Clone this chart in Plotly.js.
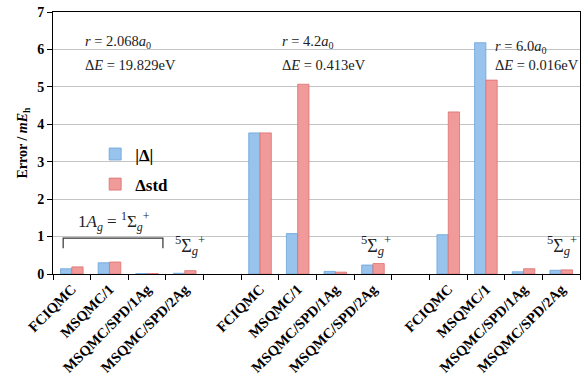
<!DOCTYPE html>
<html>
<head>
<meta charset="utf-8">
<script src="https://cdn.plot.ly/plotly-3.0.1.min.js"></script>
<style>html,body{margin:0;padding:0;background:#fff;}#chart{width:586px;height:376px;}</style>
</head>
<body>
<div id="chart"></div>
<script>
const categories = ['FCIQMC','MSQMC/1','MSQMC/SPD/1Ag','MSQMC/SPD/2Ag','',
                    'FCIQMC','MSQMC/1','MSQMC/SPD/1Ag','MSQMC/SPD/2Ag','',
                    'FCIQMC','MSQMC/1','MSQMC/SPD/1Ag','MSQMC/SPD/2Ag'];
const absDelta = [0.14, 0.30, 0.01, 0.02, null, 3.77, 1.08, 0.07, 0.24, null, 1.05, 6.18, 0.06, 0.10];
const stdDelta = [0.19, 0.32, 0.01, 0.09, null, 3.77, 5.07, 0.05, 0.28, null, 4.33, 5.18, 0.14, 0.11];
const seriesNames = ['|Δ|', 'Δstd'];
const yTicks = [0, 1, 2, 3, 4, 5, 6, 7];

const xIdx = categories.map((_, i) => i);
const boundaries = categories.concat(['']).map((_, i) => i - 0.5);

const serif = '"Liberation Serif", "Times New Roman", serif';

const traces = [
  {type:'bar', name: seriesNames[0], x: xIdx, y: absDelta, legendgroup:'a',
   marker:{color:'#98c3ec', line:{color:'#6aa3da', width:0.8}}},
  {type:'bar', name: seriesNames[1], x: xIdx, y: stdDelta, legendgroup:'b',
   marker:{color:'#f09a9a', line:{color:'#de7070', width:0.8}}}
];

const annFont = {family: serif, size: 14.5, color:'#222'};
const layout = {
  width:586, height:376,
  margin:{l:53, r:6, t:12, b:102},
  paper_bgcolor:'#fff', plot_bgcolor:'#fff',
  barmode:'group', bargap:0.4, bargroupgap:0,
  showlegend:true,
  legend:{x:0.08, y:0.525, xanchor:'left', yanchor:'top', bgcolor:'rgba(0,0,0,0)',
          font:{family: serif, size:17, color:'#000', weight:'bold'},
          traceorder:'grouped', tracegroupgap:5, itemwidth:30},
  xaxis:{range:[-0.5, 13.5], tickmode:'array', tickvals:xIdx, ticktext:categories,
         tickangle:-45, ticks:'', showgrid:false, zeroline:false,
         showline:true, linecolor:'#000', linewidth:1, mirror:true,
         tickfont:{family: serif, size:14.5, color:'#000', weight:'bold'},
         minor:{tickmode:'array', tickvals:boundaries, ticks:'outside', ticklen:5, tickcolor:'#000', showgrid:false}},
  yaxis:{range:[0, 7], tickmode:'array', tickvals:yTicks, ticks:'outside', ticklen:5, tickcolor:'#000',
         showgrid:true, gridcolor:'#c4c4c4', gridwidth:1, zeroline:false,
         showline:true, linecolor:'#000', linewidth:1, mirror:true,
         tickfont:{family: serif, size:14, color:'#000', weight:'bold'},
         title:{text:'Error / <i>mE</i><sub>h</sub>', standoff:6,
                font:{family: serif, size:14, color:'#000', weight:'bold'}}},
  shapes:[
    {type:'path', xref:'x', yref:'y', path:'M -0.23 0.69 L -0.23 0.96 L 2.42 0.96 L 2.42 0.69',
     line:{color:'#333', width:1.2}}
  ],
  annotations:[
    {xref:'x', yref:'y', x:0.30, y:6.2, xanchor:'left', yanchor:'middle', showarrow:false, font:annFont,
     text:'<i>r</i> = 2.068<i>a</i><sub>0</sub>'},
    {xref:'x', yref:'y', x:0.30, y:5.58, xanchor:'left', yanchor:'middle', showarrow:false, font:annFont,
     text:'Δ<i>E</i> = 19.829eV'},
    {xref:'x', yref:'y', x:5.53, y:6.2, xanchor:'left', yanchor:'middle', showarrow:false, font:annFont,
     text:'<i>r</i> = 4.2<i>a</i><sub>0</sub>'},
    {xref:'x', yref:'y', x:5.53, y:5.58, xanchor:'left', yanchor:'middle', showarrow:false, font:annFont,
     text:'Δ<i>E</i> = 0.413eV'},
    {xref:'x', yref:'y', x:11.19, y:6.06, xanchor:'left', yanchor:'middle', showarrow:false, font:annFont,
     text:'<i>r</i> = 6.0<i>a</i><sub>0</sub>'},
    {xref:'x', yref:'y', x:11.19, y:5.58, xanchor:'left', yanchor:'middle', showarrow:false, font:annFont,
     text:'Δ<i>E</i> = 0.016eV'},
    {xref:'x', yref:'y', x:1.12, y:1.39, xanchor:'center', yanchor:'middle', showarrow:false,
     font:{family: serif, size:17, color:'#222'},
     text:'1<i>A</i><sub><i>g</i></sub> = <sup>1</sup>Σ<sub><i>g</i></sub><sup>+</sup>'},
    {xref:'x', yref:'y', x:3.13, y:0.77, xanchor:'center', yanchor:'middle', showarrow:false,
     font:{family: serif, size:18, color:'#222'},
     text:'<sup>5</sup>Σ<sub><i>g</i></sub><sup>+</sup>'},
    {xref:'x', yref:'y', x:8.07, y:0.77, xanchor:'center', yanchor:'middle', showarrow:false,
     font:{family: serif, size:18, color:'#222'},
     text:'<sup>5</sup>Σ<sub><i>g</i></sub><sup>+</sup>'},
    {xref:'x', yref:'y', x:13.02, y:0.77, xanchor:'center', yanchor:'middle', showarrow:false,
     font:{family: serif, size:18, color:'#222'},
     text:'<sup>5</sup>Σ<sub><i>g</i></sub><sup>+</sup>'}
  ]
};

Plotly.newPlot('chart', traces, layout, {displayModeBar:false, staticPlot:true});
</script>
</body>
</html>
